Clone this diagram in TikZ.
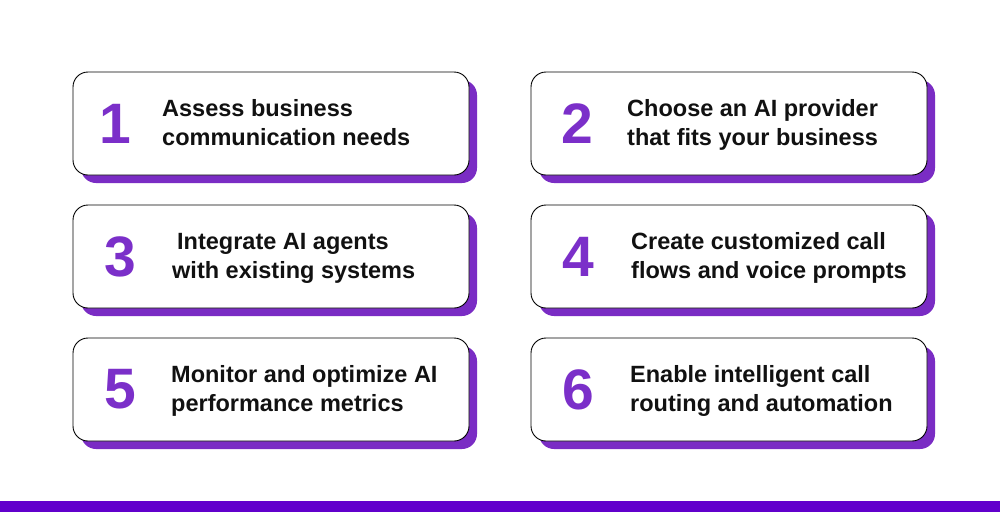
\documentclass[tikz,border=0pt]{standalone}
\usepackage{fontspec}
\setmainfont{Liberation Sans}
\usetikzlibrary{shadows}
\definecolor{numc}{HTML}{7B2FC9}
\definecolor{shadc}{HTML}{7A2CC4}
\definecolor{barc}{HTML}{6100CC}
\definecolor{txtc}{HTML}{111111}
\tikzset{
  stepcard/.style={draw=black, line width=0.9pt, fill=white, rounded corners=15pt,
    minimum width=396pt, minimum height=103pt, inner sep=0pt,
    drop shadow={shadow xshift=8pt, shadow yshift=-8pt, fill=shadc, opacity=1}},
  stepnum/.style={text=numc, font=\fontsize{57}{57}\selectfont\bfseries, inner sep=0pt},
  steptxt/.style={text=txtc, font=\fontsize{23.5}{29}\selectfont\bfseries, inner sep=0pt, anchor=base west}
}
\begin{document}
\begin{tikzpicture}[x=1pt,y=-1pt]
\useasboundingbox[fill=white] (0,0) rectangle (1000,512);
\fill[barc] (0,501) rectangle (1000,512);

\node[stepcard] (b1) at (271,123.5) {};
\node[stepcard] (b2) at (729,123.5) {};
\node[stepcard] (b3) at (271,256.5) {};
\node[stepcard] (b4) at (729,256.5) {};
\node[stepcard] (b5) at (271,389.5) {};
\node[stepcard] (b6) at (729,389.5) {};

\node[stepnum] (n1) at (115,123.5) {1};
\node[stepnum] (n2) at (577,123.5) {2};
\node[stepnum] (n3) at (120,256.5) {3};
\node[stepnum] (n4) at (578,256.5) {4};
\node[stepnum] (n5) at (120,389.5) {5};
\node[stepnum] (n6) at (578,389.5) {6};

\node[steptxt] (t1a) at (162,116) {Assess business};
\node[steptxt] (t1b) at (162,145) {communication needs};
\node[steptxt] (t2a) at (627,116) {Choose an AI provider};
\node[steptxt] (t2b) at (627,145) {that fits your business};
\node[steptxt] (t3a) at (177,249) {Integrate AI agents};
\node[steptxt] (t3b) at (172,278) {with existing systems};
\node[steptxt] (t4a) at (631,249) {Create customized call};
\node[steptxt] (t4b) at (631,278) {flows and voice prompts};
\node[steptxt] (t5a) at (171,382) {Monitor and optimize AI};
\node[steptxt] (t5b) at (171,411) {performance metrics};
\node[steptxt] (t6a) at (630,382) {Enable intelligent call};
\node[steptxt] (t6b) at (630,411) {routing and automation};
\end{tikzpicture}
\end{document}
